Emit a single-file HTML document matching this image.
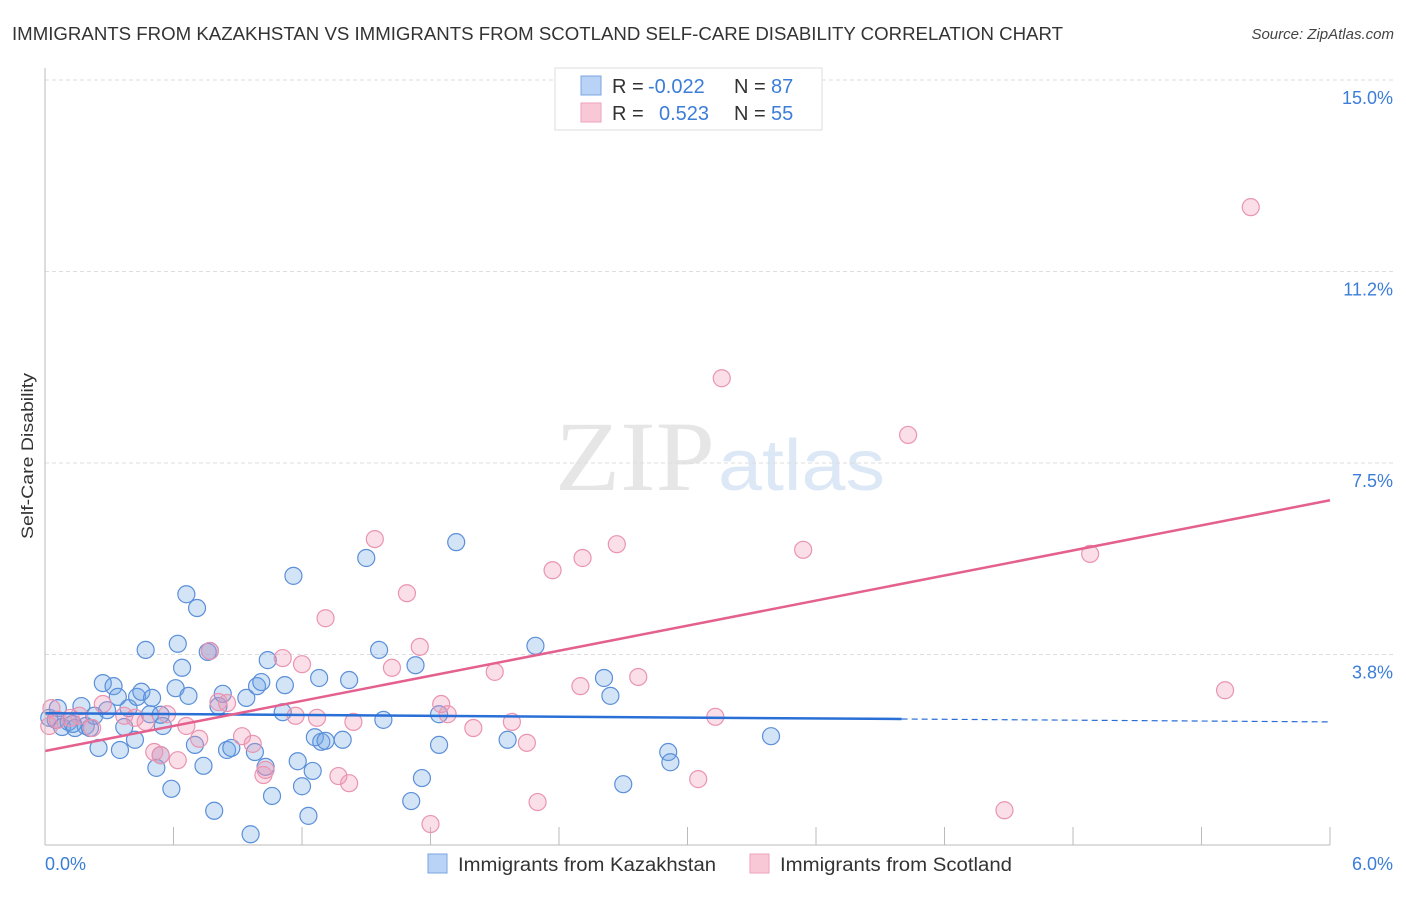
<!DOCTYPE html>
<html><head><meta charset="utf-8"><style>
body{margin:0;background:#fff;font-family:"Liberation Sans",sans-serif;}
svg text{font-family:"Liberation Sans",sans-serif;}
</style></head><body>
<svg width="1406" height="892" id="c">
<text x="12" y="40" font-size="18" fill="#333" textLength="1051" lengthAdjust="spacingAndGlyphs">IMMIGRANTS FROM KAZAKHSTAN VS IMMIGRANTS FROM SCOTLAND SELF-CARE DISABILITY CORRELATION CHART</text>
<text x="1394" y="39" font-size="15" fill="#444" font-style="italic" text-anchor="end">Source: ZipAtlas.com</text>
<text x="555" y="490" font-size="100" fill="#e6e6e6" textLength="160" lengthAdjust="spacingAndGlyphs" style="font-family:'Liberation Serif',serif">ZIP</text>
<text x="718" y="490" font-size="72" fill="#dce8f6" textLength="167" lengthAdjust="spacingAndGlyphs">atlas</text>
<g id="grid"></g><g id="pts"></g><g id="trend"></g>
<line x1="45" y1="68" x2="45" y2="845" stroke="#bbb"/>
<line x1="45" y1="845" x2="1330" y2="845" stroke="#bbb"/>
<text x="33" y="456" font-size="17" fill="#333" text-anchor="middle" transform="rotate(-90 33 456)" textLength="166" lengthAdjust="spacingAndGlyphs">Self-Care Disability</text>
<text x="45" y="870" font-size="18" fill="#3b7dd8">0.0%</text>
<text x="1393" y="870" font-size="18" fill="#3b7dd8" text-anchor="end">6.0%</text>
<g>
<rect x="555" y="68" width="267" height="62" fill="#fff" stroke="#ddd"/>
<rect x="581" y="76" width="20" height="19" fill="#b8d3f5" stroke="#7aa6e0"/>
<rect x="581" y="103" width="20" height="19" fill="#f9c8d6" stroke="#eea3bb"/>
<text x="612" y="93" font-size="20" fill="#333">R = <tspan x="648" fill="#3b7dd8">-0.022</tspan><tspan x="734">N = </tspan><tspan x="771" fill="#3b7dd8">87</tspan></text>
<text x="612" y="120" font-size="20" fill="#333">R = <tspan x="659" fill="#3b7dd8">0.523</tspan><tspan x="734">N = </tspan><tspan x="771" fill="#3b7dd8">55</tspan></text>
</g>
<g><rect x="428" y="854" width="19" height="19" fill="#b8d3f5" stroke="#7aa6e0"/><text x="458" y="871" font-size="19" fill="#333" textLength="258" lengthAdjust="spacingAndGlyphs">Immigrants from Kazakhstan</text></g>
<g><rect x="750" y="854" width="19" height="19" fill="#f9c8d6" stroke="#eea3bb"/><text x="780" y="871" font-size="19" fill="#333" textLength="232" lengthAdjust="spacingAndGlyphs">Immigrants from Scotland</text></g>
</svg>
<script>
const yTicks=[3.75,7.5,11.25,15];
const yTickLabels=["3.8%","7.5%","11.2%","15.0%"];
const xTicks=[0,0.6,1.2,1.8,2.4,3.0,3.6,4.2,4.8,5.4,6.0];
const blueX=[0.05,0.02,0.06,0.08,0.11,0.14,0.17,0.19,0.21,0.23,0.25,0.27,0.29,0.32,0.34,0.35,0.37,0.39,0.42,0.43,0.45,0.47,0.49,0.50,0.52,0.54,0.55,0.59,0.61,0.62,0.64,0.66,0.67,0.70,0.71,0.74,0.76,0.79,0.81,0.83,0.85,0.87,0.94,0.96,0.98,0.99,1.01,1.03,1.04,1.06,1.11,1.12,1.16,1.18,1.20,1.23,1.25,1.26,1.28,1.29,1.31,1.39,1.42,1.50,1.56,1.58,1.71,1.73,1.76,1.84,1.84,1.92,2.16,2.29,2.61,2.64,2.70,2.91,2.92,3.39,0.77,0.13,0.54];
const blueY=[2.47,2.51,2.70,2.33,2.43,2.31,2.74,2.35,2.31,2.55,1.92,3.19,2.66,3.13,2.92,1.88,2.33,2.70,2.08,2.92,3.02,3.84,2.58,2.90,1.53,1.78,2.35,1.12,3.09,3.96,3.49,4.93,2.94,1.98,4.66,1.57,3.80,0.69,2.74,2.98,1.88,1.92,2.90,0.23,1.84,3.13,3.21,1.55,3.64,0.98,2.62,3.15,5.29,1.66,1.17,0.59,1.47,2.13,3.29,2.04,2.06,2.08,3.25,5.64,3.84,2.47,0.88,3.54,1.33,2.58,1.98,5.95,2.08,3.92,3.29,2.94,1.21,1.84,1.64,2.15,3.82,2.39,2.57];
const pinkX=[0.03,0.02,0.06,0.12,0.16,0.22,0.27,0.37,0.42,0.47,0.51,0.54,0.57,0.62,0.66,0.72,0.77,0.81,0.85,0.92,0.97,1.02,1.03,1.11,1.17,1.20,1.27,1.31,1.37,1.42,1.44,1.54,1.62,1.69,1.75,1.80,1.85,1.88,2.00,2.10,2.18,2.25,2.30,2.37,2.50,2.51,2.67,2.77,3.05,3.13,3.16,3.54,4.03,4.48,4.88,5.51,5.63];
const pinkY=[2.70,2.35,2.47,2.51,2.55,2.31,2.78,2.55,2.51,2.43,1.84,1.78,2.58,1.68,2.35,2.10,3.82,2.82,2.80,2.15,2.00,1.39,1.49,3.68,2.55,3.56,2.51,4.46,1.37,1.23,2.43,6.01,3.49,4.95,3.90,0.43,2.78,2.58,2.31,3.41,2.43,2.02,0.86,5.40,3.13,5.64,5.91,3.31,1.31,2.53,9.16,5.80,8.05,0.70,5.72,3.05,12.51];
const blueTrend=[2.60,2.43];
const pinkTrend=[1.86,6.77];
const blueSolidEnd=4.0;
const NS="http://www.w3.org/2000/svg";
const X=v=>45+v/6*1285, Y=v=>846-v/15*766;
function mk(t,a,p){const e=document.createElementNS(NS,t);for(const k in a)e.setAttribute(k,a[k]);p.appendChild(e);return e;}
const grid=document.getElementById('grid');
yTicks.forEach((t,i)=>{
 const l=mk('line',{x1:45,x2:1393,y1:Y(t),y2:Y(t),stroke:'#ddd','stroke-dasharray':'4,3'},grid);
 
 
 const tx=mk('text',{x:1393,y:Y(t)+24,'font-size':18,fill:'#3b7dd8','text-anchor':'end'},grid);
 tx.textContent=yTickLabels[i];
 
 
});
xTicks.forEach(t=>{
 const l=mk('line',{x1:X(t),x2:X(t),y1:827,y2:845,stroke:'#bbb'},grid);
 
 
});
const pts=document.getElementById('pts');
blueX.forEach((v,i)=>{
 const c=mk('circle',{cx:X(v),cy:Y(blueY[i]),r:8.5,fill:'rgba(110,165,230,0.3)',stroke:'#5b8fd9','stroke-width':1.2},pts);
 
 
});
pinkX.forEach((v,i)=>{
 const c=mk('circle',{cx:X(v),cy:Y(pinkY[i]),r:8.5,fill:'rgba(240,150,180,0.3)',stroke:'#ea94b0','stroke-width':1.2},pts);
 
 
});
const tr=document.getElementById('trend');
const by=x=>blueTrend[0]+(blueTrend[1]-blueTrend[0])*x/6;
let l1=mk('line',{x1:X(0),y1:Y(by(0)),x2:X(blueSolidEnd),y2:Y(by(blueSolidEnd)),stroke:'#2a6fd6','stroke-width':2.5},tr);


let l2=mk('line',{x1:X(blueSolidEnd),y1:Y(by(blueSolidEnd)),x2:X(6),y2:Y(by(6)),stroke:'#2a6fd6','stroke-width':1.2,'stroke-dasharray':'6,4'},tr);


let l3=mk('line',{x1:X(0),y1:Y(pinkTrend[0]),x2:X(6),y2:Y(pinkTrend[1]),stroke:'#e4608e','stroke-width':2.5},tr);


</script>
</body></html>
